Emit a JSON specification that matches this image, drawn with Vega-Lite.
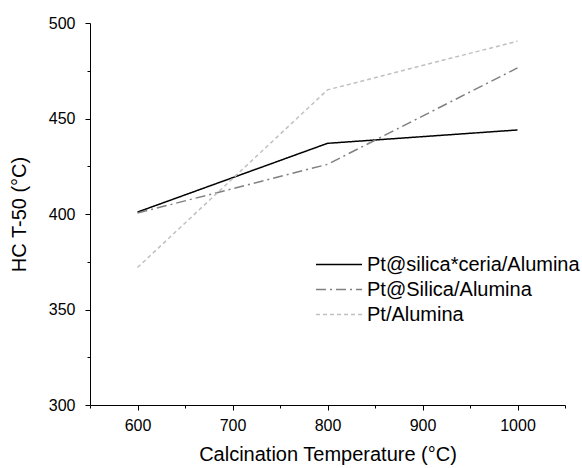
{
  "$schema": "https://vega.github.io/schema/vega-lite/v6.json",
  "width": 475,
  "height": 382,
  "autosize": "none",
  "padding": {"left": 90, "top": 23, "right": 17, "bottom": 63},
  "background": "white",
  "config": {
    "view": {"stroke": null},
    "font": "Liberation Sans",
    "axis": {"grid": false, "domainColor": "black", "tickColor": "black", "labelColor": "black", "titleColor": "black", "labelFont": "Liberation Sans", "titleFont": "Liberation Sans", "titleFontWeight": "normal", "labelFontSize": 16, "titleFontSize": 20, "domainWidth": 1, "tickWidth": 1}
  },
  "data": {"values": [
    {"temp": 600, "t50": 401, "catalyst": "Pt@silica*ceria/Alumina"},
    {"temp": 800, "t50": 437, "catalyst": "Pt@silica*ceria/Alumina"},
    {"temp": 1000, "t50": 444, "catalyst": "Pt@silica*ceria/Alumina"},
    {"temp": 600, "t50": 400.5, "catalyst": "Pt@Silica/Alumina"},
    {"temp": 800, "t50": 426, "catalyst": "Pt@Silica/Alumina"},
    {"temp": 1000, "t50": 476.5, "catalyst": "Pt@Silica/Alumina"},
    {"temp": 600, "t50": 372, "catalyst": "Pt/Alumina"},
    {"temp": 800, "t50": 465, "catalyst": "Pt/Alumina"},
    {"temp": 1000, "t50": 490.5, "catalyst": "Pt/Alumina"}
  ]},
  "layer": [
    {
      "mark": {"type": "line", "strokeWidth": 1.5},
      "encoding": {
        "x": {"field": "temp", "type": "quantitative", "scale": {"domain": [550, 1050], "nice": false, "zero": false},
              "axis": {"orient": "bottom", "values": [600, 700, 800, 900, 1000], "format": "d", "title": "Calcination Temperature (°C)", "tickSize": 5, "labelPadding": 7, "titlePadding": 11}},
        "y": {"field": "t50", "type": "quantitative", "scale": {"domain": [300, 500], "nice": false, "zero": false},
              "axis": {"orient": "left", "values": [300, 350, 400, 450, 500], "format": "d", "title": "HC T-50 (°C)", "tickSize": 5, "labelPadding": 10, "titlePadding": 19}},
        "color": {"field": "catalyst", "type": "nominal",
                  "scale": {"domain": ["Pt@silica*ceria/Alumina", "Pt@Silica/Alumina", "Pt/Alumina"], "range": ["#000000", "#808080", "#c0c0c0"]},
                  "legend": {"title": null, "orient": "none", "legendX": 225, "legendY": 229, "symbolType": "M-1,0H3", "symbolSize": 529, "symbolStrokeWidth": 1.5, "symbolFillColor": "transparent", "labelFontSize": 20, "labelFont": "Liberation Sans", "labelColor": "black", "labelLimit": 400, "rowPadding": 2, "labelOffset": 27}},
        "strokeDash": {"field": "catalyst", "type": "nominal",
                  "scale": {"domain": ["Pt@silica*ceria/Alumina", "Pt@Silica/Alumina", "Pt/Alumina"], "range": [[1, 0], [10, 4, 2, 4], [4, 3]]},
                  "legend": null}
      }
    },
    {
      "mark": {"type": "point", "opacity": 0},
      "encoding": {
        "x": {"field": "temp", "type": "quantitative", "axis": {"orient": "bottom", "values": [550, 650, 750, 850, 950, 1050], "labels": false, "title": null, "domain": false, "tickSize": 3}},
        "y": {"field": "t50", "type": "quantitative", "axis": {"orient": "left", "values": [325, 375, 425, 475], "labels": false, "title": null, "domain": false, "tickSize": 3}}
      }
    }
  ],
  "resolve": {"axis": {"x": "independent", "y": "independent"}}
}
